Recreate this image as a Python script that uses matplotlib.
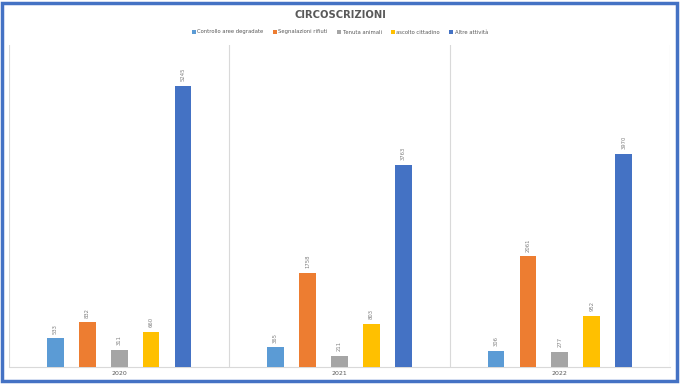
import matplotlib
matplotlib.use("Agg")
import matplotlib.pyplot as plt
import numpy as np
from matplotlib.patches import Rectangle

years = ["2020", "2021", "2022"]
series_names = ["Controllo aree degradate", "Segnalazioni rifiuti", "Tenuta animali",
                "ascolto cittadino", "Altre attività"]
controllo = [533, 365, 306]
rifiuti = [832, 1758, 2061]
animali = [311, 211, 277]
ascolto = [660, 803, 952]
altre = [5245, 3763, 3970]
series = [controllo, rifiuti, animali, ascolto, altre]
colors = ["#5B9BD5", "#ED7D31", "#A5A5A5", "#FFC000", "#4472C4"]

fig = plt.figure(figsize=(6.8, 3.84), dpi=100)
fig.patch.set_facecolor("white")
W, H = 680, 384
ax = fig.add_axes([9 / W, 1 - 367 / H, (670 - 9) / W, (367 - 45) / H])

x = np.arange(len(years))
step = 0.145
bw = 0.076
for i, (vals, c) in enumerate(zip(series, colors)):
    pos = x + (i - 2) * step
    bars = ax.bar(pos, vals, width=bw, color=c, label=series_names[i], zorder=3)
    for b, v in zip(bars, vals):
        ax.text(b.get_x() + b.get_width() / 2, v + 90, str(v), rotation=90,
                ha="center", va="bottom", fontsize=3.8, color="#7F7F7F")

ax.set_xlim(-0.5, 2.5)
ax.set_ylim(0, 6000)
ax.set_yticks([])
ax.set_xticks(x)
ax.set_xticklabels(years, fontsize=4.5, color="#595959")
ax.tick_params(axis="x", length=0, pad=3)
for sep in [-0.5, 0.5, 1.5, 2.5]:
    ax.axvline(sep, color="#D9D9D9", lw=0.8, zorder=1)
for s in ["top", "right", "left"]:
    ax.spines[s].set_visible(False)
ax.spines["bottom"].set_color("#D9D9D9")
ax.spines["bottom"].set_linewidth(0.8)

fig.text(0.5, 1 - 15 / H, "CIRCOSCRIZIONI", ha="center", va="center",
         fontsize=7.2, fontweight="bold", color="#595959")
leg = fig.legend(loc="center", bbox_to_anchor=(0.5, 1 - 32 / H), ncol=5,
                 frameon=False, fontsize=3.8, handlelength=0.7, handleheight=0.7,
                 columnspacing=1.8, handletextpad=0.3)
for t in leg.get_texts():
    t.set_color("#595959")

fig.patches.append(Rectangle((2 / W, 3 / H), (677 - 2) / W, (381 - 3) / H,
                             transform=fig.transFigure, fill=False,
                             edgecolor="#4472C4", lw=2.5))

fig.savefig("out.png", dpi=100)
